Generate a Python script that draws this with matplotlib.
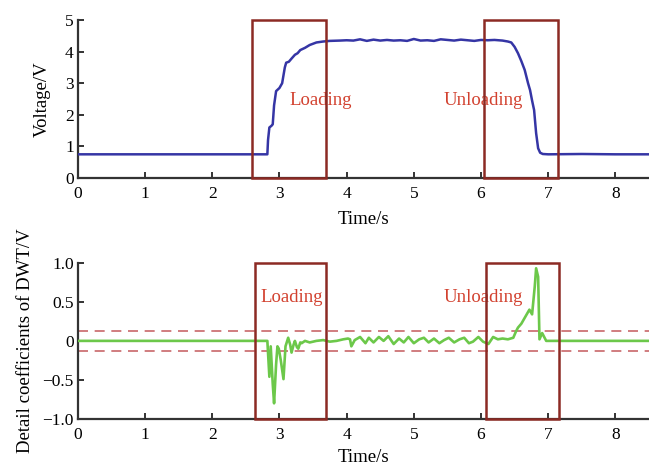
import matplotlib
matplotlib.use("Agg")
import matplotlib.pyplot as plt
from matplotlib.patches import Rectangle

# Voltage response (top panel)
volt_t = [0, 2.82, 2.83, 2.85, 2.88, 2.90, 2.92, 2.95, 3.00, 3.04, 3.08, 3.10, 3.14,
          3.18, 3.23, 3.27, 3.31, 3.38, 3.45, 3.55, 3.65, 3.75, 3.9, 4.0, 4.1, 4.2,
          4.3, 4.4, 4.5, 4.6, 4.7, 4.8, 4.9, 5.0, 5.1, 5.2, 5.3, 5.4, 5.5, 5.6, 5.7,
          5.8, 5.9, 6.0, 6.1, 6.2, 6.32, 6.40, 6.45, 6.50, 6.55, 6.60, 6.65, 6.70,
          6.73, 6.76, 6.79, 6.82, 6.85, 6.88, 6.92, 7.0, 7.5, 8.0, 8.5]
volt_v = [0.75, 0.75, 1.2, 1.6, 1.65, 1.7, 2.3, 2.75, 2.85, 3.0, 3.5, 3.65, 3.68,
          3.78, 3.90, 3.95, 4.05, 4.12, 4.21, 4.29, 4.32, 4.34, 4.35, 4.36, 4.35, 4.39,
          4.34, 4.38, 4.35, 4.37, 4.35, 4.36, 4.34, 4.40, 4.35, 4.36, 4.34, 4.39, 4.37,
          4.35, 4.38, 4.36, 4.34, 4.37, 4.36, 4.37, 4.35, 4.32, 4.29, 4.15, 3.95, 3.70,
          3.42, 3.0, 2.78, 2.45, 2.15, 1.42, 0.94, 0.80, 0.76, 0.75, 0.76, 0.75, 0.75]

# DWT detail coefficients (bottom panel)
dwt_t = [0, 2.82, 2.85, 2.87, 2.90, 2.92, 2.95, 2.97, 2.99, 3.02, 3.06, 3.09, 3.13,
         3.16, 3.18, 3.21, 3.23, 3.26, 3.28, 3.31, 3.33, 3.38, 3.45, 3.55, 3.65, 3.75,
         3.85, 3.95, 4.02, 4.05, 4.07, 4.12, 4.2, 4.28, 4.33, 4.4, 4.48, 4.55, 4.62,
         4.7, 4.78, 4.85, 4.92, 5.0, 5.08, 5.15, 5.22, 5.3, 5.38, 5.45, 5.52, 5.6,
         5.68, 5.75, 5.82, 5.88, 5.96, 6.03, 6.11, 6.18, 6.25, 6.32, 6.40, 6.48, 6.52,
         6.55, 6.60, 6.64, 6.68, 6.72, 6.76, 6.80, 6.82, 6.85, 6.87, 6.91, 6.97, 7.1, 8.5]
dwt_v = [0, 0, -0.46, -0.07, -0.55, -0.80, -0.30, -0.07, -0.10, -0.25, -0.49, -0.07,
         0.04, -0.05, -0.15, -0.05, 0.0, -0.08, -0.10, -0.02, -0.03, 0.0, -0.02, 0.0,
         0.01, -0.01, 0.0, 0.02, 0.03, 0.02, -0.07, 0.01, 0.05, -0.03, 0.04, -0.02,
         0.05, 0.0, 0.06, -0.04, 0.03, -0.02, 0.05, -0.03, 0.02, 0.04, -0.02, 0.03,
         -0.03, 0.01, 0.04, -0.02, 0.02, 0.04, -0.03, -0.01, 0.05, -0.01, -0.04, 0.05,
         0.02, 0.03, 0.02, 0.04, 0.12, 0.17, 0.22, 0.28, 0.34, 0.40, 0.34, 0.70, 0.93,
         0.82, 0.02, 0.10, 0.0, 0.0, 0.0]

threshold = 0.13

# Highlighted windows: (start, end, label)
top_windows = [(2.59, 3.69, "Loading"), (6.04, 7.14, "Unloading")]
bottom_windows = [(2.63, 3.69, "Loading"), (6.07, 7.16, "Unloading")]

x_ticks = [0, 1, 2, 3, 4, 5, 6, 7, 8]
top_y_ticks = [0, 1, 2, 3, 4, 5]
bottom_y_ticks = [-1.0, -0.5, 0, 0.5, 1.0]
bottom_y_labels = ["\u22121.0", "\u22120.5", "0", "0.5", "1.0"]

plt.rcParams["font.family"] = ["Liberation Serif", "DejaVu Serif"]

BOX = "#8c2a24"
TXT = "#d2412f"
DASH = "#c8676a"
AXC = "#333333"
TICK_FS = 12.5
LABEL_FS = 13.5

fig = plt.figure(figsize=(6.49, 4.66), dpi=100)
ax1 = fig.add_axes([0.120, 0.618, 0.880, 0.339])
ax2 = fig.add_axes([0.120, 0.101, 0.880, 0.335])


def style(ax):
    for s in ("top", "right"):
        ax.spines[s].set_visible(False)
    for s in ("left", "bottom"):
        ax.spines[s].set_color(AXC)
        ax.spines[s].set_linewidth(1.6)
    ax.tick_params(direction="in", length=4, width=1.4, color=AXC,
                   labelsize=TICK_FS, pad=3)
    ax.tick_params(axis="x", pad=6)
    ax.set_xlim(0, 8.5)
    ax.set_xticks(x_ticks)


# Top panel
style(ax1)
ax1.plot(volt_t, volt_v, color="#3535a5", lw=1.8, zorder=3)
ax1.set_ylim(0, 5)
ax1.set_yticks(top_y_ticks)
ax1.set_ylabel("Voltage/V", fontsize=LABEL_FS, labelpad=10)
ax1.set_xlabel("Time/s", fontsize=LABEL_FS, labelpad=6)
for x0, x1, lab in top_windows:
    ax1.add_patch(Rectangle((x0, 0), x1 - x0, 5, fill=False, ec=BOX, lw=1.8,
                            zorder=4, clip_on=False))
ax1.text(3.15, 2.44, "Loading", color=TXT, fontsize=LABEL_FS, va="center", ha="left")
ax1.text(5.45, 2.44, "Unloading", color=TXT, fontsize=LABEL_FS, va="center", ha="left")

# Bottom panel
style(ax2)
ax2.axhline(threshold, color=DASH, lw=1.2, ls=(0, (6, 4)), zorder=2)
ax2.axhline(-threshold, color=DASH, lw=1.2, ls=(0, (6, 4)), zorder=2)
ax2.plot(dwt_t, dwt_v, color="#6cc84a", lw=1.9, zorder=3)
ax2.set_ylim(-1.0, 1.0)
ax2.set_yticks(bottom_y_ticks)
ax2.set_yticklabels(bottom_y_labels)
ax2.set_ylabel("Detail coefficients of DWT/V", fontsize=LABEL_FS, labelpad=6)
ax2.set_xlabel("Time/s", fontsize=LABEL_FS, labelpad=4)
for x0, x1, lab in bottom_windows:
    ax2.add_patch(Rectangle((x0, -1.0), x1 - x0, 2.0, fill=False, ec=BOX, lw=1.8,
                            zorder=4, clip_on=False))
ax2.text(2.71, 0.56, "Loading", color=TXT, fontsize=LABEL_FS, va="center", ha="left")
ax2.text(5.45, 0.56, "Unloading", color=TXT, fontsize=LABEL_FS, va="center", ha="left")

fig.savefig("out.png", dpi=100)
